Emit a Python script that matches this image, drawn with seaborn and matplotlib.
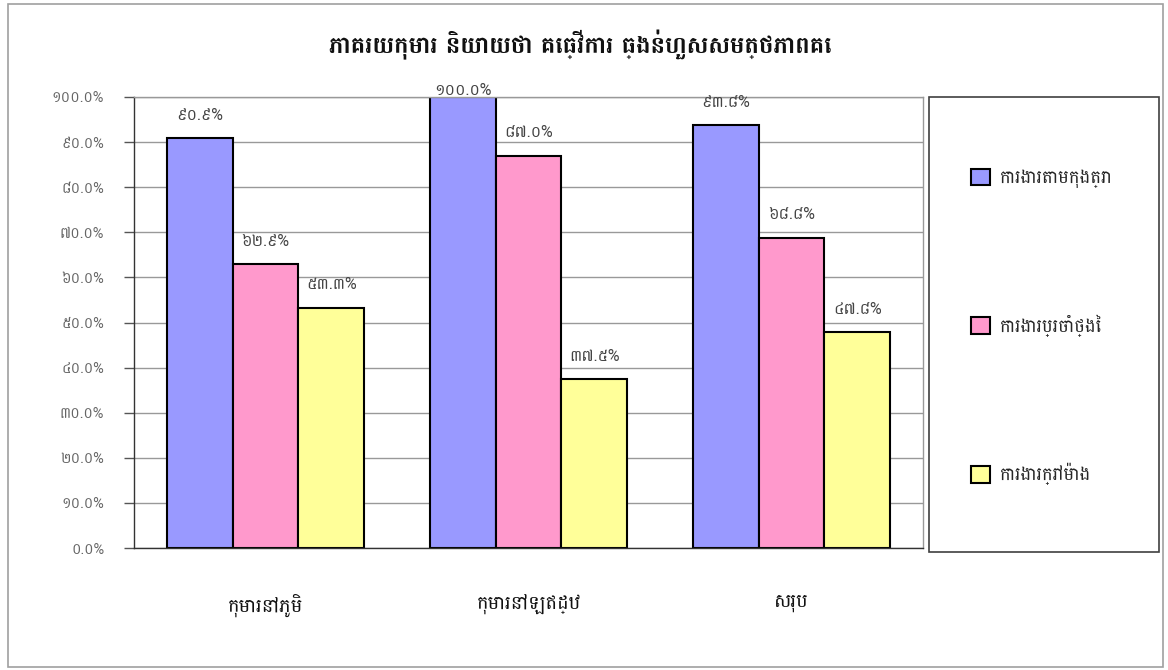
import matplotlib
matplotlib.use("Agg")
import matplotlib.pyplot as plt
from matplotlib.patches import Rectangle
import seaborn as sns
import pandas as pd

title = "ភាគរយកុមារ និយាយថា គេធ្វើការ ធ្ងន់ហួសសមត្ថភាពគេ"
categories = ["កុមារនៅភូមិ", "កុមារនៅឡឥដ្ឋ", "សរុប"]
series = ["ការងារតាមកុងត្រា", "ការងារប្រចាំថ្ងៃ", "ការងារក្រៅម៉ោង"]
contract = [90.9, 100.0, 93.8]
daily = [62.9, 87.0, 68.8]
overtime = [53.3, 37.5, 47.8]
contract_labels = ["៩០.៩%", "១០០.០%", "៩៣.៨%"]
daily_labels = ["៦២.៩%", "៨៧.០%", "៦៨.៨%"]
overtime_labels = ["៥៣.៣%", "៣៧.៥%", "៤៧.៨%"]
ytick_values = [0, 10, 20, 30, 40, 50, 60, 70, 80, 90, 100]
ytick_labels = ["០.០%", "១០.០%", "២០.០%", "៣០.០%", "៤០.០%", "៥០.០%",
                "៦០.០%", "៧០.០%", "៨០.០%", "៩០.០%", "១០០.០%"]
colors = ["#9999FF", "#FF99CC", "#FFFF99"]

sns.set_theme(style="white")
plt.rcParams['font.family'] = ['Battambang', 'DejaVu Sans']
num_font = ['Battambang', 'DejaVu Sans']

rows = []
for s, vals in zip(series, [contract, daily, overtime]):
    for c, v in zip(categories, vals):
        rows.append({"category": c, "series": s, "value": v})
df = pd.DataFrame(rows)

W, H = 1168, 670
fig = plt.figure(figsize=(W/100, H/100), dpi=100)
ax = fig.add_axes([134/W, 1 - 548/H, (923-134)/W, (548-97)/H])

sns.barplot(data=df, x="category", y="value", hue="series", hue_order=series,
            order=categories, palette=colors, edgecolor="black", linewidth=1.5,
            width=0.75, saturation=1, ax=ax)

for cont, labs, vals in zip(ax.containers, [contract_labels, daily_labels, overtime_labels],
                            [contract, daily, overtime]):
    texts = ax.bar_label(cont, labels=labs, padding=11, fontsize=11.5, color="#444444",
                         family=num_font)
    for t, v in zip(texts, vals):
        if v >= 99.5:
            t.xyann = (0, -1)

ax.set_ylim(0, 100)
ax.set_xlim(-0.5, 2.5)
ax.set_yticks(ytick_values)
ax.set_yticklabels(ytick_labels, family=num_font, fontsize=10.5, color="#666666")
ax.yaxis.grid(True, color="#999999", linewidth=1)
ax.set_axisbelow(True)
ax.tick_params(axis="y", which="both", left=True, length=7.5, width=1, color="#555555", pad=14)
ax.tick_params(axis="x", bottom=False, pad=27)
for lab in ax.get_xticklabels():
    lab.set_fontsize(14)
    lab.set_color("#111111")
ax.set_xlabel("")
ax.set_ylabel("")
for side in ["left", "bottom", "top", "right"]:
    ax.spines[side].set_visible(True)
    ax.spines[side].set_color("#999999")
    ax.spines[side].set_linewidth(1)
ax.spines["bottom"].set_color("#333333")
ax.spines["left"].set_color("#333333")

handles, labels = ax.get_legend_handles_labels()
ax.get_legend().remove()

# outer chart border and legend frame
fig.patches.append(Rectangle((8/W, 1 - 667/H), (1163-8)/W, (667-4)/H,
                             transform=fig.transFigure, fill=False,
                             edgecolor="#a0a0a0", linewidth=1.2))
fig.patches.append(Rectangle((929/W, 1 - 552/H), (1159-929)/W, (552-97)/H,
                             transform=fig.transFigure, fill=False,
                             edgecolor="#404040", linewidth=1.2))
fig.legend(handles, labels, loc="center left", bbox_to_anchor=(962/W, 1 - 327/H),
           frameon=False, fontsize=13, handlelength=1.05, handleheight=1.05,
           labelspacing=7.0, handletextpad=0.55, borderpad=0)

fig.text(580/W, 1 - 45/H, title, ha="center", va="center",
         fontsize=17.5, fontweight="bold", color="#111111")

fig.savefig("out.png", dpi=100, facecolor="white")
